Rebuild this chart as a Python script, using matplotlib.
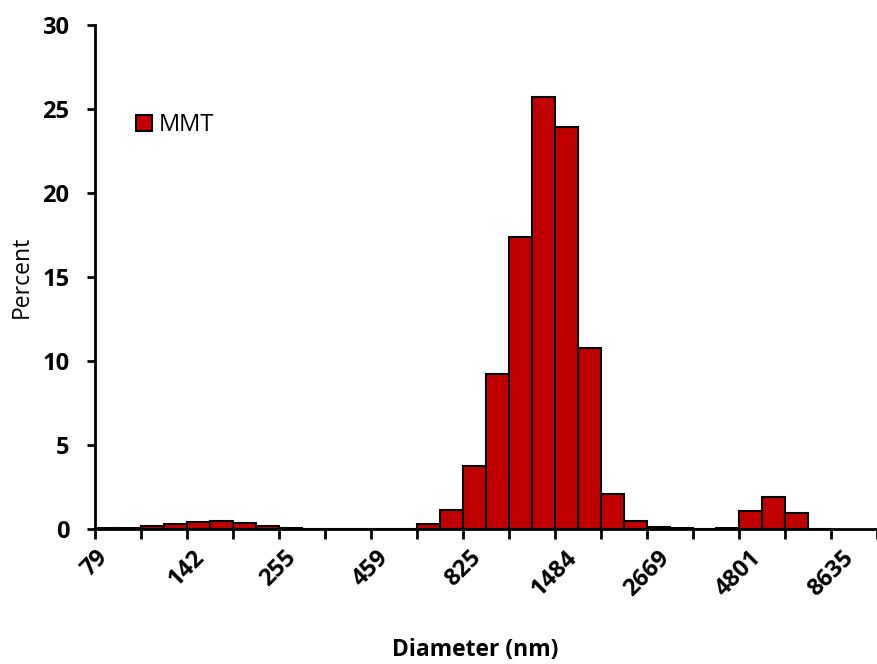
import matplotlib
matplotlib.use("Agg")
import matplotlib.pyplot as plt
from matplotlib.patches import Patch

# ---- data ----
tick_labels = ["79", "142", "255", "459", "825", "1484", "2669", "4801", "8635"]
percent = [0.03, 0.08, 0.15, 0.28, 0.40, 0.47, 0.34, 0.20, 0.08, 0.02,
           0.0, 0.0, 0.0, 0.0, 0.28, 1.13, 3.75, 9.2, 17.4, 25.7,
           23.9, 10.8, 2.08, 0.5, 0.14, 0.04, 0.0, 0.05, 1.1, 1.9,
           0.95, 0.0]
series_name = "MMT"
y_ticks = [0, 5, 10, 15, 20, 25, 30]

W, H = 877, 664
fig = plt.figure(figsize=(W / 100, H / 100), dpi=100)
left, right, bottom, top = 94.5, 877, 529, 25
ax = fig.add_axes([left / W, 1 - bottom / H, (right - left) / W, (bottom - top) / H])

font = ["Open Sans", "DejaVu Sans"]
red = "#C00000"

pos = list(range(len(percent)))
ax.bar([p + 0.5 for p in pos], percent, width=1.0, color=red,
       edgecolor="black", linewidth=1.5, zorder=3)

ax.set_xlim(0, (right - left) / 23.3)
ax.set_ylim(0, 30)

# x ticks: marks every 2 bins, labels every 4 bins
major = [4 * i for i in range(len(tick_labels))]
minor = [m + 2 for m in major]
ax.set_xticks(major)
ax.set_xticklabels(tick_labels, rotation=45, fontsize=17, fontweight="bold",
                   family=font)
ax.set_xticks(minor, minor=True)
ax.tick_params(axis="x", which="both", direction="out", length=7, width=2,
               pad=5)

ax.set_yticks(y_ticks)
ax.set_yticklabels([str(v) for v in y_ticks], fontsize=17, fontweight="bold",
                   family=font)
ax.tick_params(axis="y", direction="out", length=6, width=2, pad=12)

for s in ["top", "right"]:
    ax.spines[s].set_visible(False)
for s in ["left", "bottom"]:
    ax.spines[s].set_linewidth(2)
    ax.spines[s].set_zorder(4)

ax.set_ylabel("Percent", fontsize=16.5, family=font)
ax.yaxis.set_label_coords(-(left - 34) / (right - left), 0.5)
ax.set_xlabel("Diameter (nm)", fontsize=16.5, fontweight="bold", family=font)
ax.xaxis.set_label_coords((475 - left) / (right - left), -(638 - bottom) / (bottom - top))

handle = Patch(facecolor=red, edgecolor="black", linewidth=1.5)
ax.legend([handle], [series_name], loc="upper left",
          bbox_to_anchor=(136 / W, 1 - 113 / H), bbox_transform=fig.transFigure,
          frameon=False, prop={"family": font, "size": 17},
          handlelength=0.68, handleheight=0.68, handletextpad=0.3,
          borderpad=0, borderaxespad=0)

fig.savefig("out.png", dpi=100)
